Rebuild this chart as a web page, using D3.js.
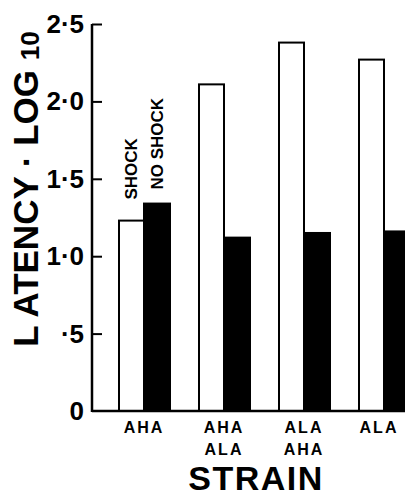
<!DOCTYPE html>
<html><head><meta charset="utf-8">
<script src="https://cdn.jsdelivr.net/npm/d3@7"></script>
<style>
html,body{margin:0;padding:0;background:#fff;}
text{font-family:"Liberation Sans",Arial,sans-serif;font-weight:bold;fill:#000;}
</style></head>
<body><svg id="c" width="405" height="499"></svg>
<script>
const strains = [["AHA"], ["AHA","ALA"], ["ALA","AHA"], ["ALA"]];
const strainKeys = ["AHA", "AHA/ALA", "ALA/AHA", "ALA"];
const series = ["SHOCK", "NO SHOCK"];
const shock = [1.23, 2.11, 2.38, 2.27];
const noShock = [1.34, 1.12, 1.15, 1.16];
const yTickValues = [0, 0.5, 1, 1.5, 2, 2.5];
const yTickLabels = ["0", "·5", "1·0", "1·5", "2·0", "2·5"];

const svg = d3.select("#c");
const axisX = 92, y0 = 411, yTop = 24;
const y = d3.scaleLinear().domain([0, 2.5]).range([y0, yTop]);
const x = d3.scaleBand().domain(strainKeys).range([axisX, axisX + 80 * 4.3])
  .paddingInner(0.35).paddingOuter(0.325);
const xs = d3.scaleBand().domain(series).range([0, x.bandwidth()]);

const data = strainKeys.map((k, i) => ({k, vals: [shock[i], noShock[i]]}));

// bars
const g = svg.append("g");
data.forEach(d => {
  series.forEach((s, j) => {
    const v = d.vals[j];
    g.append("rect")
      .attr("x", x(d.k) + xs(s) + (j === 0 ? 1 : 0))
      .attr("y", y(v))
      .attr("width", xs.bandwidth() - (j === 0 ? 1 : 0))
      .attr("height", y(0) - y(v))
      .attr("fill", j === 0 ? "#fff" : "#000")
      .attr("stroke", "#000")
      .attr("stroke-width", 2);
  });
});

// y axis
const yAxis = d3.axisRight(y).tickValues(yTickValues.filter(v => v > 0))
  .tickSize(10).tickFormat("");
const ya = svg.append("g").attr("transform", `translate(${axisX},0)`).call(yAxis);
ya.select(".domain").remove();
ya.selectAll("line").attr("stroke", "#000").attr("stroke-width", 2);
svg.append("line").attr("x1", axisX).attr("x2", axisX)
  .attr("y1", y(2.5)).attr("y2", y(0) + 1).attr("stroke", "#000").attr("stroke-width", 2.5);
svg.append("line").attr("x1", axisX).attr("x2", 405)
  .attr("y1", y(0)).attr("y2", y(0)).attr("stroke", "#000").attr("stroke-width", 2.5);

// y tick labels
yTickValues.forEach((v, i) => {
  svg.append("text").attr("x", axisX - 8).attr("y", y(v) + 9)
    .attr("text-anchor", "end").attr("font-size", 26).text(yTickLabels[i]);
});

// x labels
data.forEach((d, i) => {
  strains[i].forEach((line, li) => {
    svg.append("text").attr("x", x(d.k) + x.bandwidth() / 2 + (i === 3 ? -5 : 0))
      .attr("y", y(0) + 22 + li * 22)
      .attr("text-anchor", "middle").attr("font-size", 16)
      .attr("letter-spacing", 2).text(line);
  });
});

// series annotations over first group
series.forEach((s, j) => {
  const cx = x(strainKeys[0]) + xs(s) + xs.bandwidth() / 2 + 6;
  const cy = y(data[0].vals[j]) - (j === 0 ? 21 : 14);
  svg.append("text").attr("transform", `translate(${cx},${cy}) rotate(-90)`)
    .attr("font-size", 17).text(s);
});

// axis titles
svg.append("text").attr("x", 256).attr("y", 490).attr("text-anchor", "middle")
  .attr("font-size", 34).attr("letter-spacing", 1.5).text("STRAIN");
const yt = svg.append("text").attr("transform", "translate(38,189) rotate(-90)")
  .attr("text-anchor", "middle").attr("font-size", 35);
yt.append("tspan").text("L ATENCY · LOG ");
yt.append("tspan").attr("font-size", 26).attr("dy", 1).text("10");
</script></body></html>
